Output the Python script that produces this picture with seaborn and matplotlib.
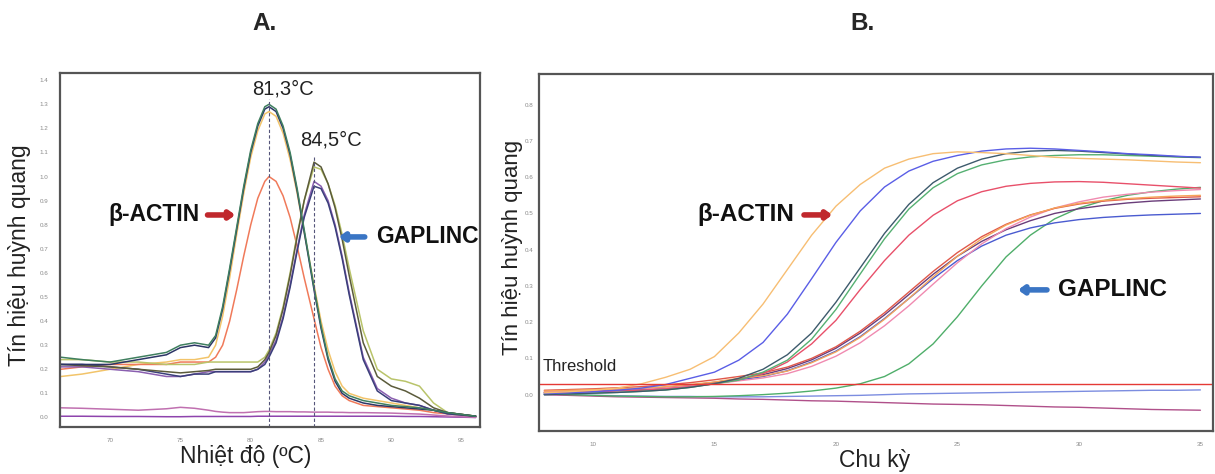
import matplotlib
matplotlib.use('Agg')
import matplotlib.pyplot as plt
import seaborn as sns
import pandas as pd

# ---- A. melt curve data (temperature, -dF/dT) ----
melt_temps = [66.5, 68, 70, 72, 74, 75, 76, 77, 77.5, 78, 78.5, 79, 79.5, 80, 80.5, 81, 81.3, 81.8,
              82.3, 82.8, 83.3, 83.8, 84.5, 85, 85.5, 86, 86.5, 87, 88, 89, 90, 91, 92, 93, 94, 96]

actin_green = [0.25, 0.24, 0.23, 0.25, 0.27, 0.30, 0.31, 0.30, 0.34, 0.46, 0.62, 0.79, 0.96, 1.11, 1.22, 1.29, 1.30, 1.28,
               1.21, 1.10, 0.95, 0.78, 0.54, 0.38, 0.25, 0.16, 0.11, 0.09, 0.07, 0.06, 0.05, 0.045, 0.04, 0.03, 0.02, 0.005]
actin_navy = [0.22, 0.22, 0.22, 0.24, 0.26, 0.29, 0.30, 0.29, 0.33, 0.45, 0.61, 0.78, 0.95, 1.10, 1.21, 1.28, 1.29, 1.27,
              1.20, 1.09, 0.94, 0.77, 0.53, 0.37, 0.24, 0.15, 0.10, 0.08, 0.06, 0.05, 0.045, 0.04, 0.035, 0.03, 0.02, 0.005]
actin_salmon = [0.20, 0.21, 0.22, 0.22, 0.22, 0.23, 0.23, 0.23, 0.25, 0.30, 0.40, 0.53, 0.67, 0.80, 0.91, 0.98, 1.00, 0.98,
                0.92, 0.83, 0.71, 0.58, 0.41, 0.29, 0.20, 0.13, 0.09, 0.07, 0.05, 0.045, 0.04, 0.035, 0.03, 0.02, 0.015, 0.005]
actin_yellow = [0.17, 0.18, 0.20, 0.22, 0.23, 0.24, 0.24, 0.25, 0.30, 0.42, 0.58, 0.76, 0.93, 1.08, 1.19, 1.26, 1.27, 1.25,
                1.18, 1.07, 0.93, 0.77, 0.55, 0.40, 0.28, 0.19, 0.13, 0.10, 0.08, 0.07, 0.06, 0.05, 0.04, 0.03, 0.02, 0.005]
gap_olive = [0.22, 0.215, 0.21, 0.20, 0.19, 0.185, 0.19, 0.195, 0.20, 0.20, 0.20, 0.20, 0.20, 0.20, 0.21, 0.24, 0.27, 0.34,
             0.45, 0.59, 0.75, 0.90, 1.06, 1.04, 0.97, 0.87, 0.74, 0.59, 0.31, 0.17, 0.13, 0.11, 0.08, 0.04, 0.02, 0.005]
gap_lime = [0.24, 0.24, 0.23, 0.23, 0.22, 0.22, 0.22, 0.23, 0.23, 0.23, 0.23, 0.23, 0.23, 0.23, 0.23, 0.25, 0.28, 0.35,
            0.46, 0.60, 0.76, 0.90, 1.04, 1.03, 0.97, 0.88, 0.76, 0.62, 0.36, 0.20, 0.16, 0.15, 0.13, 0.06, 0.02, 0.005]
gap_purple = [0.21, 0.21, 0.20, 0.19, 0.17, 0.17, 0.18, 0.19, 0.19, 0.19, 0.19, 0.19, 0.19, 0.19, 0.20, 0.23, 0.26, 0.32,
              0.42, 0.55, 0.70, 0.84, 0.98, 0.96, 0.90, 0.80, 0.67, 0.52, 0.25, 0.12, 0.08, 0.06, 0.05, 0.03, 0.015, 0.005]
gap_navy = [0.22, 0.22, 0.21, 0.20, 0.18, 0.17, 0.18, 0.18, 0.19, 0.19, 0.19, 0.19, 0.19, 0.19, 0.20, 0.22, 0.25, 0.31,
            0.41, 0.54, 0.69, 0.83, 0.96, 0.95, 0.89, 0.79, 0.66, 0.51, 0.24, 0.11, 0.07, 0.06, 0.05, 0.03, 0.015, 0.005]
ntc_violet = [0.005, 0.005, 0.004, 0.004, 0.003, 0.003, 0.004, 0.004, 0.004, 0.004, 0.004, 0.004, 0.004, 0.004, 0.005, 0.005, 0.005, 0.005,
              0.005, 0.005, 0.005, 0.005, 0.005, 0.005, 0.005, 0.005, 0.005, 0.005, 0.005, 0.005, 0.005, 0.004, 0.004, 0.003, 0.002, 0.0]
ntc_pink = [0.04, 0.038, 0.034, 0.03, 0.036, 0.042, 0.038, 0.03, 0.025, 0.022, 0.02, 0.02, 0.02, 0.022, 0.024, 0.025, 0.025, 0.024,
            0.024, 0.024, 0.023, 0.023, 0.022, 0.022, 0.022, 0.021, 0.021, 0.02, 0.02, 0.019, 0.018, 0.016, 0.014, 0.01, 0.006, 0.0]

melt_curves = {
    'ntc_violet': ntc_violet, 'ntc_pink': ntc_pink,
    'actin_yellow': actin_yellow, 'actin_salmon': actin_salmon,
    'gap_lime': gap_lime, 'gap_purple': gap_purple, 'gap_navy': gap_navy, 'gap_olive': gap_olive,
    'actin_navy': actin_navy, 'actin_green': actin_green,
}
melt_colors = {
    'actin_green': '#3f7f5f', 'actin_navy': '#2c3566', 'actin_salmon': '#f07a5a', 'actin_yellow': '#f2c46a',
    'gap_olive': '#5b5b3b', 'gap_lime': '#b9c46a', 'gap_purple': '#8a5fb0', 'gap_navy': '#3a3f7a',
    'ntc_violet': '#8e44ad', 'ntc_pink': '#c070b0',
}
peak_temps = [81.3, 84.5]
peak_tops = [1.32, 1.09]
peak_labels = ['81,3°C', '84,5°C']
melt_xticks = [70, 75, 80, 85, 90, 95]
melt_yticks = [0.0, 0.1, 0.2, 0.3, 0.4, 0.5, 0.6, 0.7, 0.8, 0.9, 1.0, 1.1, 1.2, 1.3, 1.4]

# ---- B. amplification curve data ----
cycles = [8, 9, 10, 11, 12, 13, 14, 15, 16, 17, 18, 19, 20, 21, 22, 23, 24, 25, 26, 27, 28, 29, 30, 31, 32, 33, 34, 35]

amp_actin_orange = [0.005, 0.008, 0.012, 0.018, 0.03, 0.048, 0.07, 0.105, 0.17, 0.25, 0.345, 0.44, 0.52, 0.58,
                    0.625, 0.65, 0.665, 0.67, 0.668, 0.665, 0.66, 0.655, 0.652, 0.65, 0.648, 0.645, 0.642, 0.64]
amp_actin_blue = [0.003, 0.005, 0.008, 0.012, 0.018, 0.028, 0.045, 0.062, 0.095, 0.144, 0.222, 0.32, 0.42, 0.507,
                  0.573, 0.617, 0.644, 0.66, 0.672, 0.678, 0.68, 0.678, 0.674, 0.67, 0.665, 0.662, 0.658, 0.655]
amp_actin_slate = [0.0, 0.002, 0.004, 0.006, 0.009, 0.013, 0.02, 0.03, 0.045, 0.07, 0.11, 0.17, 0.255, 0.35,
                   0.445, 0.525, 0.585, 0.625, 0.65, 0.665, 0.672, 0.674, 0.672, 0.668, 0.664, 0.66, 0.657, 0.655]
amp_actin_green = [0.0, 0.002, 0.004, 0.006, 0.009, 0.013, 0.02, 0.03, 0.04, 0.062, 0.095, 0.153, 0.235, 0.333,
                   0.43, 0.512, 0.571, 0.61, 0.634, 0.648, 0.656, 0.66, 0.662, 0.662, 0.66, 0.658, 0.656, 0.654]
amp_actin_red = [0.005, 0.006, 0.008, 0.01, 0.012, 0.016, 0.022, 0.03, 0.042, 0.058, 0.09, 0.14, 0.205, 0.29,
                 0.37, 0.44, 0.495, 0.535, 0.56, 0.575, 0.583, 0.587, 0.588, 0.586, 0.582, 0.578, 0.574, 0.57]
amp_gap_orange = [0.010, 0.012, 0.014, 0.016, 0.018, 0.022, 0.028, 0.035, 0.045, 0.052, 0.065, 0.088, 0.118, 0.158,
                  0.208, 0.265, 0.325, 0.382, 0.43, 0.468, 0.495, 0.515, 0.528, 0.536, 0.541, 0.545, 0.548, 0.55]
amp_gap_red = [0.012, 0.014, 0.016, 0.019, 0.022, 0.027, 0.033, 0.041, 0.05, 0.06, 0.076, 0.1, 0.132, 0.175,
               0.226, 0.283, 0.34, 0.392, 0.436, 0.47, 0.496, 0.514, 0.526, 0.534, 0.539, 0.542, 0.544, 0.546]
amp_gap_pink = [0.008, 0.01, 0.012, 0.014, 0.016, 0.019, 0.024, 0.03, 0.038, 0.046, 0.058, 0.078, 0.106, 0.143,
                0.19, 0.245, 0.305, 0.364, 0.416, 0.458, 0.49, 0.515, 0.532, 0.545, 0.553, 0.559, 0.563, 0.566]
amp_gap_purple = [0.005, 0.007, 0.009, 0.012, 0.015, 0.02, 0.026, 0.034, 0.043, 0.055, 0.072, 0.096, 0.128, 0.17,
                  0.22, 0.276, 0.332, 0.382, 0.423, 0.455, 0.48, 0.5, 0.513, 0.522, 0.529, 0.534, 0.537, 0.54]
amp_gap_blue = [0.006, 0.008, 0.01, 0.012, 0.015, 0.019, 0.024, 0.031, 0.04, 0.05, 0.066, 0.09, 0.12, 0.16,
                0.21, 0.265, 0.32, 0.37, 0.41, 0.44, 0.46, 0.474, 0.483, 0.489, 0.493, 0.496, 0.498, 0.5]
amp_gap_green = [0.002, 0.0, -0.002, -0.004, -0.005, -0.006, -0.006, -0.005, -0.003, 0.0, 0.004, 0.01, 0.018, 0.03,
                 0.05, 0.085, 0.14, 0.215, 0.3, 0.38, 0.44, 0.485, 0.515, 0.535, 0.55, 0.56, 0.567, 0.572]
amp_ntc_blue = [0.0, 0.0, -0.002, -0.003, -0.004, -0.005, -0.005, -0.006, -0.006, -0.006, -0.005, -0.004, -0.003, -0.002,
                0.0, 0.002, 0.003, 0.004, 0.005, 0.006, 0.007, 0.008, 0.009, 0.01, 0.011, 0.012, 0.012, 0.013]
amp_ntc_pink = [0.0, -0.002, -0.004, -0.006, -0.007, -0.008, -0.009, -0.01, -0.012, -0.013, -0.015, -0.017, -0.018, -0.02,
                -0.022, -0.024, -0.026, -0.027, -0.028, -0.03, -0.032, -0.034, -0.035, -0.037, -0.039, -0.041, -0.042, -0.043]
threshold_level = 0.028

amp_curves = {
    'ntc_blue': amp_ntc_blue, 'ntc_pink': amp_ntc_pink,
    'gap_green': amp_gap_green, 'gap_blue': amp_gap_blue, 'gap_purple': amp_gap_purple,
    'gap_pink': amp_gap_pink, 'gap_red': amp_gap_red, 'gap_orange': amp_gap_orange,
    'actin_red': amp_actin_red, 'actin_green': amp_actin_green, 'actin_slate': amp_actin_slate,
    'actin_blue': amp_actin_blue, 'actin_orange': amp_actin_orange,
}
amp_colors = {
    'actin_orange': '#f7be73', 'actin_blue': '#5a5ee6', 'actin_slate': '#3d5a6c', 'actin_green': '#55b072',
    'actin_red': '#e8506a', 'gap_orange': '#f5a55a', 'gap_red': '#e0584a', 'gap_pink': '#f08ab0',
    'gap_purple': '#6a3d7a', 'gap_blue': '#4a5bd0', 'gap_green': '#4fae6a',
    'ntc_blue': '#7c8de0', 'ntc_pink': '#b0508a',
}
amp_xticks = [10, 15, 20, 25, 30, 35]
amp_yticks = [0.0, 0.1, 0.2, 0.3, 0.4, 0.5, 0.6, 0.7, 0.8]

sns.set_style("white")
plt.rcParams['font.family'] = ['Liberation Sans', 'DejaVu Sans']

melt_df = pd.DataFrame([(t, v, name) for name, vals in melt_curves.items()
                        for t, v in zip(melt_temps, vals)], columns=['temp', 'signal', 'curve'])
amp_df = pd.DataFrame([(c, v, name) for name, vals in amp_curves.items()
                       for c, v in zip(cycles, vals)], columns=['cycle', 'signal', 'curve'])

fig = plt.figure(figsize=(12.15, 4.74), dpi=100)
ax1 = fig.add_axes([0.049, 0.099, 0.346, 0.747])
ax2 = fig.add_axes([0.444, 0.091, 0.554, 0.753])

sns.lineplot(data=melt_df, x='temp', y='signal', hue='curve', hue_order=list(melt_curves),
             palette=melt_colors, legend=False, linewidth=1.1, estimator=None, sort=False, ax=ax1)
sns.lineplot(data=amp_df, x='cycle', y='signal', hue='curve', hue_order=list(amp_curves),
             palette=amp_colors, legend=False, linewidth=1.0, estimator=None, sort=False, ax=ax2)
ax2.axhline(threshold_level, color='#e53935', lw=1.0)

# panel A styling
ax1.set_xlim(66.4, 96.3)
ax1.set_ylim(-0.04, 1.43)
ax1.set_xticks(melt_xticks)
ax1.set_yticks(melt_yticks)
ax1.set_yticklabels([f'{v:.1f}' for v in melt_yticks])
ax1.vlines(peak_temps, -0.04, peak_tops, colors='#55557a', linestyles=(0, (3, 2)), lw=0.8)
for t, top, lab, dx, dy in zip(peak_temps, peak_tops, peak_labels, [1.0, 1.2], [0.044, 0.06]):
    ax1.text(t + dx, top + dy, lab, fontsize=14.5, ha='center', va='center', color='#222222')

# panel B styling
ax2.set_xlim(7.8, 35.5)
ax2.set_ylim(-0.10, 0.885)
ax2.set_xticks(amp_xticks)
ax2.set_yticks(amp_yticks)
ax2.set_yticklabels([f'{v:.1f}' for v in amp_yticks])
ax2.text(0.004, 0.18, 'Threshold', transform=ax2.transAxes, fontsize=12, color='#222222', va='center')

for ax in (ax1, ax2):
    for s in ax.spines.values():
        s.set_color('#555555')
        s.set_linewidth(1.6)
    ax.tick_params(labelsize=4.5, labelcolor='#8a8a8a', length=2, color='#aaaaaa', pad=6)
    ax.set_xlabel('')
    ax.set_ylabel('')
ax2.tick_params(axis='y', pad=2)

ax1.set_xlabel('Nhiệt độ (ºC)', fontsize=16.5, color='#222222')
ax1.xaxis.set_label_coords(0.443, -0.05)
ax1.set_ylabel('Tín hiệu huỳnh quang', fontsize=16.5, color='#222222')
ax1.yaxis.set_label_coords(-0.067, 0.486)
ax2.set_xlabel('Chu kỳ', fontsize=16.5, color='#222222')
ax2.xaxis.set_label_coords(0.498, -0.05)
ax2.set_ylabel('Tín hiệu huỳnh quang', fontsize=16, color='#222222')
ax2.yaxis.set_label_coords(-0.024, 0.515)

red = '#c0282d'
blue = '#3a75c4'


def label_arrow(ax, text, tx, ty, ha, a0, a1, color, size):
    ax.text(tx, ty, text, transform=ax.transAxes, fontsize=size, fontweight='bold',
            ha=ha, va='center', color='#111111')
    ax.annotate('', xy=(a1, ty), xytext=(a0, ty), xycoords='axes fraction',
                arrowprops=dict(arrowstyle='-|>,head_width=0.22,head_length=0.3', color=color,
                                lw=4, shrinkA=0, shrinkB=0))


label_arrow(ax1, 'β-ACTIN', 0.333, 0.599, 'right', 0.352, 0.418, red, 16.5)
label_arrow(ax1, 'GAPLINC', 0.752, 0.537, 'left', 0.726, 0.664, blue, 16.5)
label_arrow(ax2, 'β-ACTIN', 0.378, 0.605, 'right', 0.393, 0.435, red, 17.5)
label_arrow(ax2, 'GAPLINC', 0.771, 0.395, 'left', 0.754, 0.711, blue, 17.5)

fig.text(265 / 1215, 1 - 24 / 474, 'A.', fontsize=17.5, fontweight='bold', ha='center', va='center')
fig.text(862 / 1215, 1 - 24 / 474, 'B.', fontsize=17.5, fontweight='bold', ha='center', va='center')

fig.savefig('out.png', dpi=100, facecolor='white')
plt.close(fig)
